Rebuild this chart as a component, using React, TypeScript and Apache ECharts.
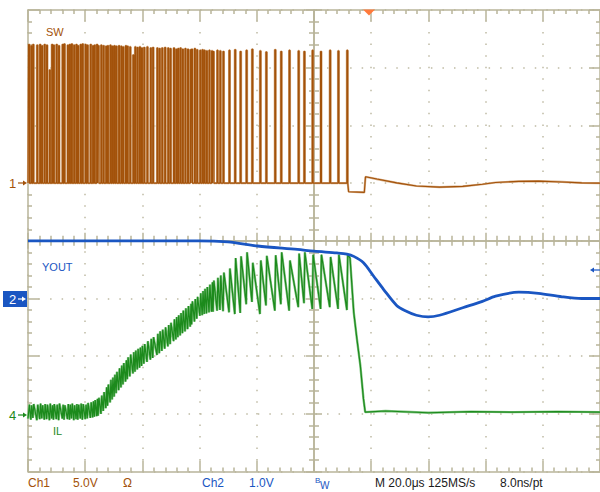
import React, { useEffect, useRef } from 'react';
import * as echarts from 'echarts';

// Time axis: 20 µs/div, 10 div
const T_MIN = -100;
const T_MAX = 100;
// Vertical: 8 div, centre = 0
const Y_MIN = -4;
const Y_MAX = 4;

// Channel settings (screen position of ground markers, in div)
const CH1_POS = 1;
const CH1_VDIV = 5;
const CH2_POS = -1;
const CH4_POS = -3;

// SW (Ch1): switching pulse start times (µs) and pulse tops (V)
const swPulseTimes: number[] = [
  -99.8, -99.0, -98.3, -96.9, -95.9, -95.2, -94.3, -93.5, -92.5, -91.7,
  -91.1, -90.1, -89.3, -88.0, -87.4, -86.2, -85.5, -84.8, -84.0, -83.2,
  -82.6, -81.7, -81.0, -80.0, -79.3, -78.2, -77.4, -76.8, -76.0, -75.5,
  -74.5, -73.7, -72.8, -72.2, -71.3, -70.6, -69.9, -69.2, -68.3, -67.5,
  -66.8, -65.9, -65.3, -64.4,
  -63.3, -62.6, -61.8, -61.0, -60.3, -59.5, -58.4, -57.2, -56.4, -54.9,
  -54.1, -53.2, -52.2, -51.1, -50.3, -49.1, -48.3, -47.6, -46.8, -46.0,
  -45.1, -44.2, -43.3, -42.8, -41.8, -41.0,
  -39.9, -39.1, -38.4, -37.6, -36.7, -35.8, -35.3, -33.9, -32.9, -31.8, -29.7,
  -27.7, -25.8, -23.7, -21.7, -18.9, -16.8, -13.7, -11.6, -8.7, -5.5, -3.5, -0.6,
  2.3, 5.5, 8.4, 11.5,
];
const swPulseTops: number[] = [
  12.0, 11.9, 12.0, 11.95, 12.0, 11.9, 12.0, 11.95, 9.8, 12.0,
  11.95, 12.0, 11.9, 12.0, 12.05, 11.95, 12.0, 12.05, 11.95, 12.0,
  11.9, 12.0, 12.05, 12.0, 11.95, 12.0, 11.9, 11.95, 12.0, 11.9,
  11.95, 11.9, 11.85, 11.9, 11.95, 11.85, 11.9, 11.85, 11.9, 11.85,
  11.8, 11.9, 11.85, 11.8,
  11.1, 11.8, 11.75, 11.8, 11.7, 11.75, 11.8, 11.7, 11.75, 11.7,
  11.65, 11.7, 11.75, 11.7, 11.65, 11.7, 11.6, 11.65, 11.7, 11.6,
  11.65, 11.6, 11.55, 11.6, 11.65, 11.55,
  11.5, 11.55, 11.5, 11.45, 11.5, 11.45, 11.4, 11.5, 11.45, 11.4, 11.5,
  11.55, 11.4, 11.5, 11.6, 11.45, 11.35, 11.55, 11.4, 11.5, 11.45, 11.4, 11.5,
  11.4, 11.5, 11.45, 11.5,
];
// SW after switching stops: [t µs, V]
const swTail: [number, number][] = [
  [12.1, -0.75], [17.6, -0.8], [18.0, 0.55], [22.0, 0.35], [28.9, 0.02],
  [35.8, -0.25], [43.9, -0.35], [52.0, -0.28], [58.9, -0.1], [63.5, 0.05],
  [71.6, 0.15], [78.5, 0.17], [86.7, 0.1], [93.6, 0.02], [100, 0.0],
];

// IL (Ch4): valley (at pulse start) and peak (end of on-time), div above marker
const ilValleys: number[] = [
  -0.08, -0.10, -0.07, -0.11, -0.09, -0.08, -0.10, -0.09, -0.11, -0.08,
  -0.10, -0.09, -0.11, -0.08, -0.10, -0.09, -0.10, -0.08, -0.11, -0.09,
  -0.10, -0.08, -0.10, -0.09, -0.08, -0.07, -0.06, -0.05, -0.04, -0.03,
  0.00, 0.05, 0.10, 0.14, 0.20, 0.25, 0.30, 0.36, 0.41, 0.46,
  0.51, 0.56, 0.60, 0.65,
  0.70, 0.73, 0.77, 0.80, 0.83, 0.87, 0.90, 0.94, 0.97, 1.02,
  1.05, 1.09, 1.13, 1.17, 1.21, 1.26, 1.29, 1.33, 1.36, 1.40,
  1.43, 1.47, 1.51, 1.55, 1.60, 1.65,
  1.70, 1.71, 1.73, 1.74, 1.76, 1.77, 1.77, 1.79, 1.80, 1.78, 1.76,
  1.73, 1.75, 1.90, 1.94, 1.73, 1.88, 1.79, 1.90, 1.79, 1.85, 1.92, 1.82,
  1.82, 1.85, 1.82, 1.80,
];
const ilPeaks: number[] = [
  0.16, 0.15, 0.17, 0.16, 0.18, 0.15, 0.17, 0.16, 0.18, 0.15,
  0.17, 0.16, 0.18, 0.16, 0.15, 0.17, 0.16, 0.18, 0.15, 0.17,
  0.16, 0.18, 0.17, 0.16, 0.19, 0.20, 0.22, 0.24, 0.26, 0.28,
  0.32, 0.38, 0.46, 0.51, 0.59, 0.63, 0.68, 0.73, 0.79, 0.84,
  0.88, 0.93, 0.98, 1.03,
  1.07, 1.10, 1.13, 1.15, 1.18, 1.21, 1.26, 1.30, 1.33, 1.39,
  1.43, 1.46, 1.50, 1.54, 1.58, 1.64, 1.68, 1.71, 1.75, 1.79,
  1.83, 1.87, 1.91, 1.95, 1.99, 2.03,
  2.09, 2.13, 2.17, 2.20, 2.24, 2.28, 2.31, 2.36, 2.40, 2.45, 2.52,
  2.70, 2.73, 2.80, 2.62, 2.66, 2.74, 2.75, 2.80, 2.66, 2.78, 2.80, 2.76,
  2.76, 2.72, 2.76, 2.76,
];
const ilTail: [number, number][] = [
  [12.6, 2.70], [13.9, 1.76], [15.0, 1.30], [16.2, 0.84], [17.3, 0.26],
  [17.9, 0.03], [25, 0.05], [40, 0.02], [55, 0.04], [70, 0.03], [85, 0.04], [100, 0.03],
];

// VOUT (Ch2): [t µs, V above marker]
const voutData: [number, number][] = [
  [-100, 1.0], [-80, 1.0], [-60, 1.0], [-40.4, 1.0], [-30.1, 0.98], [-19.7, 0.91],
  [-5.8, 0.85], [0, 0.82], [8, 0.79], [11.5, 0.77], [13.9, 0.73], [17.3, 0.62],
  [20.8, 0.39], [24.3, 0.16], [28.9, -0.12], [32.3, -0.22], [35.8, -0.29],
  [39.9, -0.32], [43.9, -0.29], [52.0, -0.16], [58.9, -0.05], [63.5, 0.04],
  [71.6, 0.11], [78.5, 0.09], [86.7, 0.03], [93.6, 0.0], [100, 0.0],
];

const traceNames = ['SW', 'YOUT', 'IL'];
const markerNames = ['1', '2', '4'];
const footerCh1 = ['Ch1', '5.0V', 'Ω'];
const footerCh2 = ['Ch2', '1.0V'];
const footerTime = ['M 20.0μs 125MS/s', '8.0ns/pt'];

const ON_TIME = 0.3;

const BROWN = '#a3520a';
const BROWN_LIGHT = '#d6ac84';
const BLUE = '#1a56c2';
const GREEN = '#1c8a1c';
const GREEN_LIGHT = '#80c480';
const GRAT = '#b8b49a';
const DOT = '#bfbba4';
const FONT = '"Liberation Sans", Arial, sans-serif';

function buildSw(): [number, number][] {
  const out: [number, number][] = [[T_MIN, CH1_POS]];
  swPulseTimes.forEach((t, i) => {
    const top = CH1_POS + swPulseTops[i] / CH1_VDIV;
    out.push([t, CH1_POS], [t, top], [t + ON_TIME, top], [t + ON_TIME, CH1_POS]);
  });
  swTail.forEach(([t, v]) => out.push([t, CH1_POS + v / CH1_VDIV]));
  return out;
}

function buildIl(): [number, number][] {
  const out: [number, number][] = [[T_MIN, CH4_POS + ilValleys[0]]];
  swPulseTimes.forEach((t, i) => {
    out.push([t, CH4_POS + ilValleys[i]], [t + ON_TIME, CH4_POS + ilPeaks[i]]);
  });
  ilTail.forEach(([t, v]) => out.push([t, CH4_POS + v]));
  return out;
}

function buildVout(): [number, number][] {
  return voutData.map(([t, v]) => [t, CH2_POS + v]);
}

const gl = { color: GRAT, width: 1.5 };

function xAxisDef(kind: 'bottom' | 'top' | 'cin' | 'cout') {
  const center = kind === 'cin' || kind === 'cout';
  return {
    type: 'value', min: T_MIN, max: T_MAX, interval: 20,
    position: kind === 'top' ? 'top' : 'bottom',
    axisLine: center
      ? { show: true, onZero: true, onZeroAxisIndex: 0, lineStyle: gl }
      : { show: true, onZero: false, lineStyle: gl },
    axisTick: { show: true, inside: kind !== 'cout', length: center ? 8 : 11, lineStyle: gl },
    minorTick: { show: true, splitNumber: 5, length: center ? 5 : 4, lineStyle: gl },
    axisLabel: { show: false },
    splitLine: kind === 'bottom'
      ? { show: true, lineStyle: { color: DOT, width: 1.5, type: [1.5, 10.04], dashOffset: 0.75 } }
      : { show: false },
  };
}
function yAxisDef(kind: 'left' | 'right' | 'cin' | 'cout') {
  const center = kind === 'cin' || kind === 'cout';
  return {
    type: 'value', min: Y_MIN, max: Y_MAX, interval: 1,
    position: kind === 'right' ? 'right' : 'left',
    axisLine: center
      ? { show: true, onZero: true, onZeroAxisIndex: 0, lineStyle: gl }
      : { show: true, onZero: false, lineStyle: gl },
    axisTick: { show: true, inside: kind !== 'cout', length: center ? 8 : 11, lineStyle: gl },
    minorTick: { show: true, splitNumber: 5, length: center ? 5 : 4, lineStyle: gl },
    axisLabel: { show: false },
    splitLine: kind === 'left'
      ? { show: true, lineStyle: { color: DOT, width: 1.5, type: [1.5, 10.04], dashOffset: 0.75 } }
      : { show: false },
  };
}

function txt(x: number, y: number, text: string, fill: string, size: number, align = 'left') {
  return {
    type: 'text', x, y, z: 100,
    style: { text, fill, font: `${size}px ${FONT}`, textAlign: align, textVerticalAlign: 'middle' },
  };
}
function arrowR(x0: number, x1: number, y: number, color: string) {
  return [
    { type: 'line', z: 100, shape: { x1: x0, y1: y, x2: x1 - 2, y2: y }, style: { stroke: color, lineWidth: 1.2 } },
    { type: 'polygon', z: 100, shape: { points: [[x1, y], [x1 - 4, y - 2.5], [x1 - 4, y + 2.5]] }, style: { fill: color } },
  ];
}
function arrowL(x0: number, x1: number, y: number, color: string) {
  return [
    { type: 'line', z: 100, shape: { x1: x0 + 2, y1: y, x2: x1, y2: y }, style: { stroke: color, lineWidth: 1.2 } },
    { type: 'polygon', z: 100, shape: { points: [[x0, y], [x0 + 4, y - 2.5], [x0 + 4, y + 2.5]] }, style: { fill: color } },
  ];
}

export default function App() {
  const ref = useRef<HTMLDivElement>(null);
  useEffect(() => {
    if (!ref.current) return;
    const chart = echarts.init(ref.current, undefined, { renderer: 'svg' });
    const sw = buildSw();
    const il = buildIl();
    const vout = buildVout();
    const graphics: any[] = [
      txt(46, 32, traceNames[0], BROWN, 11),
      txt(42, 267, traceNames[1], BLUE, 11),
      txt(53, 431, traceNames[2], GREEN, 11),
      txt(9, 183.5, markerNames[0], BROWN, 13),
      ...arrowR(18, 27, 183, BROWN),
      { type: 'rect', z: 99, shape: { x: 3, y: 291, width: 24, height: 16 }, style: { fill: BLUE } },
      txt(9, 299.5, markerNames[1], '#ffffff', 13),
      ...arrowR(18, 26, 299, '#ffffff'),
      txt(9, 415.5, markerNames[2], GREEN, 13),
      ...arrowR(18, 27, 415, GREEN),
      ...arrowL(590, 600, 270, BLUE),
      { type: 'polygon', z: 100, shape: { points: [[363, 9.5], [375, 9.5], [369, 15.5]] }, style: { fill: '#ff7a3c' } },
      txt(28, 483, footerCh1[0], BROWN, 12),
      txt(73, 483, footerCh1[1], BROWN, 12),
      txt(123, 483, footerCh1[2], BROWN, 12),
      txt(202, 483, footerCh2[0], BLUE, 12),
      txt(249, 483, footerCh2[1], BLUE, 12),
      txt(315, 480, 'B', BLUE, 8),
      txt(320, 485, 'W', BLUE, 10),
      txt(375, 483, footerTime[0], '#1a1a1a', 12),
      txt(500, 483, footerTime[1], '#1a1a1a', 12),
    ];
    chart.setOption({
      animation: false,
      backgroundColor: '#ffffff',
      grid: { left: 28, top: 10, width: 577, height: 461.6, containLabel: false },
      xAxis: [xAxisDef('bottom'), xAxisDef('top'), xAxisDef('cin'), xAxisDef('cout')],
      yAxis: [yAxisDef('left'), yAxisDef('right'), yAxisDef('cin'), yAxisDef('cout')],
      series: [
        { type: 'line', data: sw, symbol: 'none', z: 3, silent: true, lineStyle: { color: BROWN_LIGHT, width: 2.2 } },
        { type: 'line', data: sw, symbol: 'none', z: 4, silent: true, lineStyle: { color: BROWN, width: 1.1 } },
        { type: 'line', data: il, symbol: 'none', z: 5, silent: true, lineStyle: { color: GREEN_LIGHT, width: 2.4 } },
        { type: 'line', data: il, symbol: 'none', z: 6, silent: true, lineStyle: { color: GREEN, width: 1.2 } },
        { type: 'line', data: vout, symbol: 'none', z: 7, silent: true, smooth: 0.3, lineStyle: { color: BLUE, width: 2.8 } },
      ],
      graphic: { elements: graphics },
    });
    return () => chart.dispose();
  }, []);
  return <div ref={ref} style={{ position: 'absolute', left: 0, top: 0, width: 600, height: 492 }} />;
}
